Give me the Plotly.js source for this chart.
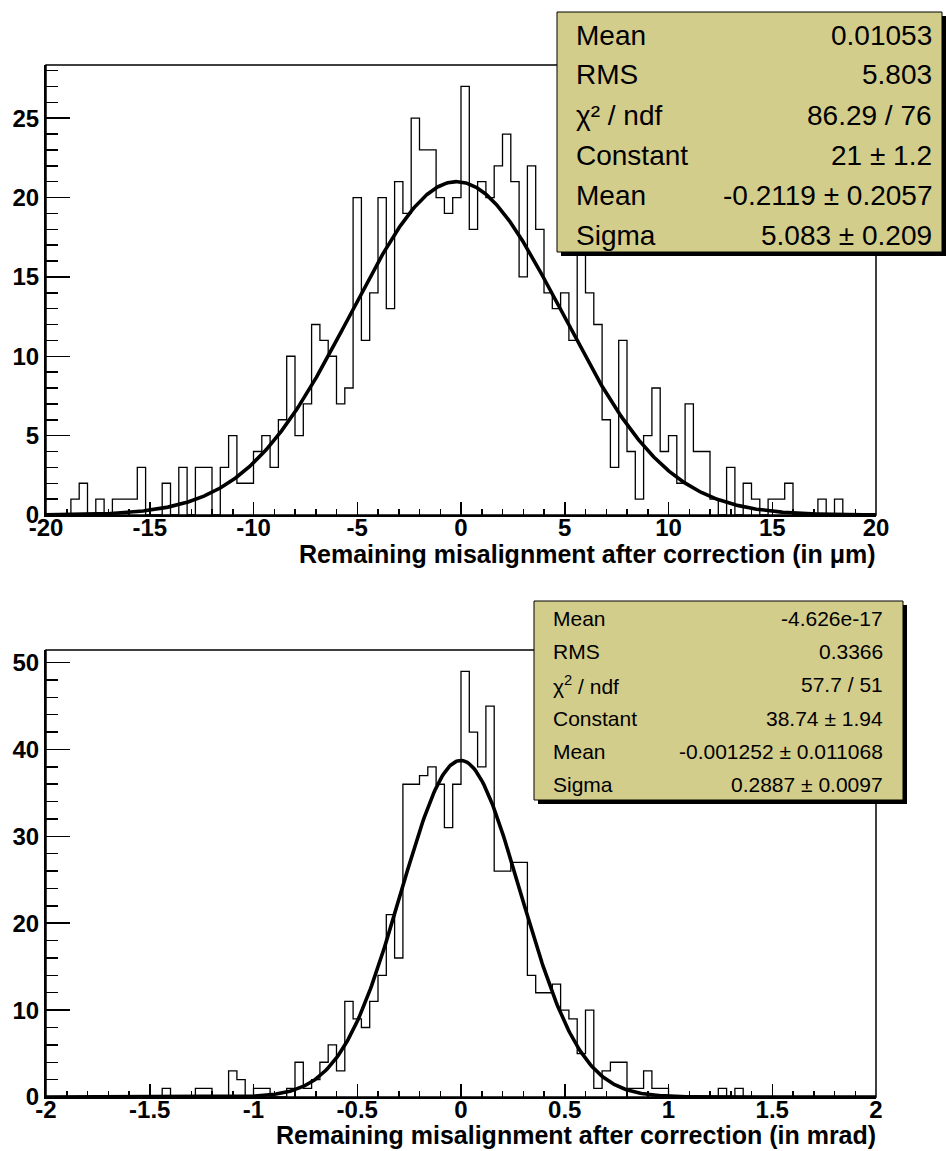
<!DOCTYPE html>
<html>
<head>
<meta charset="utf-8">
<script src="https://cdn.plot.ly/plotly-3.0.1.min.js"></script>
<style>html,body{margin:0;padding:0;background:#fff;}</style>
</head>
<body>
<div id="chart" style="width:946px;height:1151px;"></div>
<script>
// ---------- DATA ----------
// Top histogram: 100 bins from -20 to 20 (width 0.4)
const topBinLow = -20;
const topBinWidth = 0.4;
const topCounts = [
  0,0,0,1,2,0,1,0,1,1,
  1,3,0,0,2,0,3,0,3,3,
  0,3,5,2,2,4,5,3,6,10,
  5,7,12,11,10,7,8,20,11,14,
  20,13,21,19,25,23,23,20,19,20,
  27,18,21,20,22,24,21,15,22,18,
  14,13,14,11,17,14,12,6,3,11,
  4,1,5,8,4,5,2,7,4,4,
  1,0,3,0,2,1,0,1,1,2,
  0,0,0,1,0,1,0,0,0,0
];
const topFitParams = {constant: 21, mean: -0.2119, sigma: 5.083};
const topXTicks = [-20,-15,-10,-5,0,5,10,15,20];
const topYTicks = [0,5,10,15,20,25];
const topXTitle = "Remaining misalignment after correction (in \u03bcm)";
const topStatLabels = ["Mean","RMS","\u03c7\u00b2 / ndf","Constant","Mean","Sigma"];
const topStatValues = ["0.01053","5.803","86.29 / 76","21 \u00b1 1.2","-0.2119 \u00b1 0.2057","5.083 \u00b1 0.209"];

// Bottom histogram: 100 bins from -2 to 2 (width 0.04)
const botBinLow = -2;
const botBinWidth = 0.04;
const botCounts = [
  0,0,0,0,0,0,0,0,0,0,
  0,0,0,0,1,0,0,0,1,1,
  0,0,3,2,0,1,1,0,0,1,
  4,1,2,4,6,3,11,9,8,11,
  14,21,16,36,36,37,38,36,31,36,
  49,42,38,45,26,26,27,27,14,12,
  12,13,10,9,5,10,1,3,4,4,
  1,1,3,1,1,0,0,0,0,0,
  0,1,0,1,0,0,0,0,0,0,
  0,0,0,0,0,0,0,0,0,0
];
const botFitParams = {constant: 38.74, mean: -0.001252, sigma: 0.2887};
const botXTicks = [-2,-1.5,-1,-0.5,0,0.5,1,1.5,2];
const botYTicks = [0,10,20,30,40,50];
const botXTitle = "Remaining misalignment after correction (in mrad)";
const botStatLabels = ["Mean","RMS","\u03c7<sup>2</sup> / ndf","Constant","Mean","Sigma"];
const botStatValues = ["-4.626e-17","0.3366","57.7 / 51","38.74 \u00b1 1.94","-0.001252 \u00b1 0.011068","0.2887 \u00b1 0.0097"];

// ---------- HELPERS ----------
const W = 946, H = 1151;
const px = x => x / W;
const py = y => 1 - y / H;
const FONT = "Liberation Sans, Arial, Helvetica, sans-serif";

function stepTrace(lo, w, counts, xa, ya) {
  const xs = [lo], ys = [0];
  for (let i = 0; i < counts.length; i++) { xs.push(lo + i * w); ys.push(counts[i]); }
  const hi = lo + counts.length * w;
  xs.push(hi); ys.push(counts[counts.length - 1]);
  xs.push(hi); ys.push(0);
  return {x: xs, y: ys, xaxis: xa, yaxis: ya, type: 'scatter', mode: 'lines',
          line: {shape: 'hv', color: '#000', width: 1.3}, hoverinfo: 'skip'};
}
function fitTrace(lo, hi, p, xa, ya) {
  const xs = [], ys = [];
  const n = 600;
  for (let k = 0; k < n; k++) {
    const x = lo + (hi - lo) * k / (n - 1);
    xs.push(x);
    ys.push(p.constant * Math.exp(-0.5 * Math.pow((x - p.mean) / p.sigma, 2)));
  }
  return {x: xs, y: ys, xaxis: xa, yaxis: ya, type: 'scatter', mode: 'lines',
          line: {color: '#000', width: 3.6}, hoverinfo: 'skip'};
}

const topHi = topBinLow + topCounts.length * topBinWidth;
const botHi = botBinLow + botCounts.length * botBinWidth;
const topYMax = Math.max(...topCounts) * 1.05;
const botYMax = Math.max(...botCounts) * 1.05;

const data = [
  stepTrace(topBinLow, topBinWidth, topCounts, 'x', 'y'),
  fitTrace(topBinLow, topHi, topFitParams, 'x', 'y'),
  stepTrace(botBinLow, botBinWidth, botCounts, 'x2', 'y2'),
  fitTrace(botBinLow, botHi, botFitParams, 'x2', 'y2')
];

const tickFont = {family: FONT, size: 24, color: '#000', weight: 'bold'};
function xAxis(range, ticks, dom, anchor, minorD) {
  return {domain: dom, range: range, anchor: anchor, showgrid: false, zeroline: false,
    showline: true, linecolor: '#000', linewidth: 2.4,
    ticks: 'inside', ticklen: 13, tickwidth: 1.5, tickcolor: '#000',
    ticklabelstandoff: -10,
    tickmode: 'array', tickvals: ticks, ticktext: ticks.map(String), tickfont: tickFont,
    minor: {dtick: minorD, ticks: 'inside', ticklen: 6.5, tickwidth: 1.5, tickcolor: '#000', showgrid: false},
    fixedrange: true};
}
function yAxis(range, ticks, dom, anchor, minorD) {
  return {domain: dom, range: range, anchor: anchor, showgrid: false, zeroline: false,
    showline: true, linecolor: '#000', linewidth: 2,
    ticks: 'inside', ticklen: 24, tickwidth: 1.5, tickcolor: '#000',
    tickmode: 'array', tickvals: ticks, ticktext: ticks.map(String), tickfont: tickFont,
    minor: {dtick: minorD, ticks: 'inside', ticklen: 12, tickwidth: 1.5, tickcolor: '#000', showgrid: false},
    fixedrange: true};
}

const xDom = [px(46), px(876)];
const topYDom = [py(515), py(65)];
const botYDom = [py(1097), py(650)];

const shapes = [];
const annotations = [];
// frames
shapes.push({type: 'rect', xref: 'x domain', yref: 'y domain', x0: 0, x1: 1, y0: 0, y1: 1,
  line: {color: '#000', width: 1.5}, layer: 'above'});
shapes.push({type: 'rect', xref: 'x2 domain', yref: 'y2 domain', x0: 0, x1: 1, y0: 0, y1: 1,
  line: {color: '#000', width: 1.5}, layer: 'above'});

const BOXFILL = 'rgb(211,205,139)';
function statBox(x0, y0, x1, y1, shadow, labels, values, fs, lx, rx, c0, dy) {
  shapes.push({type: 'rect', xref: 'paper', yref: 'paper', x0: px(x0 + shadow), x1: px(x1 + shadow),
    y0: py(y0 + shadow), y1: py(y1 + shadow), fillcolor: '#000', line: {width: 0}, layer: 'above'});
  shapes.push({type: 'rect', xref: 'paper', yref: 'paper', x0: px(x0), x1: px(x1), y0: py(y0), y1: py(y1),
    fillcolor: BOXFILL, line: {color: '#000', width: 1}, layer: 'above'});
  for (let i = 0; i < labels.length; i++) {
    const yc = py(c0 + dy * i);
    annotations.push({xref: 'paper', yref: 'paper', x: px(lx), y: yc, xanchor: 'left', yanchor: 'middle',
      text: labels[i], showarrow: false, font: {family: FONT, size: fs, color: '#000'}});
    annotations.push({xref: 'paper', yref: 'paper', x: px(rx), y: yc, xanchor: 'right', yanchor: 'middle',
      text: values[i], showarrow: false, font: {family: FONT, size: fs, color: '#000'}});
  }
}
statBox(557, 12, 942, 252, 4, topStatLabels, topStatValues, 28, 574, 934, 35, 40);
statBox(534, 601, 903, 800, 4, botStatLabels, botStatValues, 21, 551, 885, 618.5, 33.2);

// axis titles (right-aligned, ROOT style)
annotations.push({xref: 'paper', yref: 'paper', x: px(878), y: py(554), xanchor: 'right', yanchor: 'middle',
  text: topXTitle, showarrow: false, font: {family: FONT, size: 25, color: '#000', weight: 'bold'}});
annotations.push({xref: 'paper', yref: 'paper', x: px(878), y: py(1135), xanchor: 'right', yanchor: 'middle',
  text: botXTitle, showarrow: false, font: {family: FONT, size: 25, color: '#000', weight: 'bold'}});

const layout = {
  width: W, height: H, autosize: false,
  margin: {l: 0, r: 0, t: 0, b: 0, pad: 0},
  paper_bgcolor: '#fff', plot_bgcolor: '#fff',
  showlegend: false,
  xaxis: xAxis([topBinLow, topHi], topXTicks, xDom, 'y', 1),
  yaxis: yAxis([0, topYMax], topYTicks, topYDom, 'x', 1),
  xaxis2: xAxis([botBinLow, botHi], botXTicks, xDom, 'y2', 0.1),
  yaxis2: yAxis([0, botYMax], botYTicks, botYDom, 'x2', 2),
  shapes: shapes,
  annotations: annotations
};

Plotly.newPlot('chart', data, layout, {staticPlot: true, displayModeBar: false});
</script>
</body>
</html>
